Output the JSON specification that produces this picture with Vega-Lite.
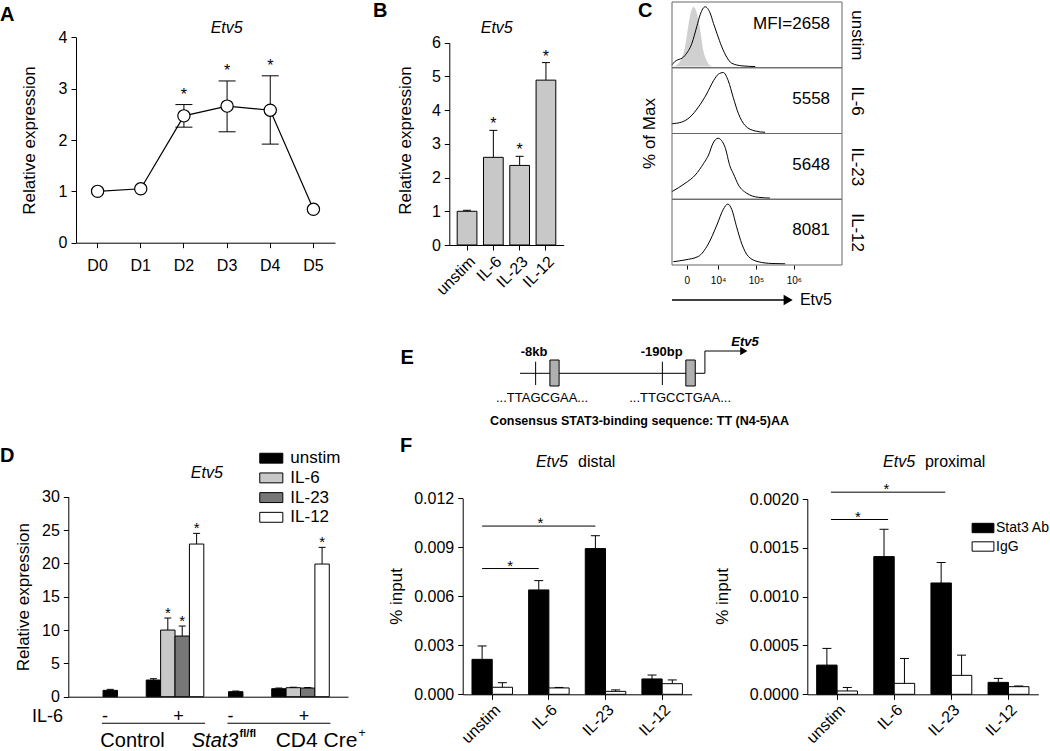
{
"$schema":"https://vega.github.io/schema/vega-lite/v6.json",
"width":1050,"height":751,"autosize":{"type":"none"},"padding":0,"background":"#ffffff",
"config":{"view":{"stroke":null},"font":"Liberation Sans",
 "axis":{"grid":false,"domainColor":"#000000","tickColor":"#000000","labelColor":"#000000","titleColor":"#000000","labelFont":"Liberation Sans","titleFont":"Liberation Sans","titleFontWeight":"normal","labelFontSize":16,"titleFontSize":17,"tickSize":5,"labelPadding":4},
 "legend":{"labelFont":"Liberation Sans","labelColor":"#000000"},
 "text":{"font":"Liberation Sans","color":"#000000"}},
"datasets":{
 "a":[
  {"day":"D0","mean":1.0,"lo":null,"hi":null,"sig":""},
  {"day":"D1","mean":1.05,"lo":null,"hi":null,"sig":""},
  {"day":"D2","mean":2.47,"lo":2.25,"hi":2.69,"sig":"*"},
  {"day":"D3","mean":2.66,"lo":2.16,"hi":3.15,"sig":"*"},
  {"day":"D4","mean":2.58,"lo":1.92,"hi":3.25,"sig":"*"},
  {"day":"D5","mean":0.65,"lo":null,"hi":null,"sig":""}],
 "b":[
  {"cat":"unstim","mean":1.0,"hi":1.03,"sig":""},
  {"cat":"IL-6","mean":2.6,"hi":3.4,"sig":"*"},
  {"cat":"IL-23","mean":2.36,"hi":2.63,"sig":"*"},
  {"cat":"IL-12","mean":4.89,"hi":5.41,"sig":"*"}],
 "hist":[
  {"sample":"unstim","series":"stain","u":2.79,"pct":3},
  {"sample":"unstim","series":"stain","u":2.82,"pct":5.6},
  {"sample":"unstim","series":"stain","u":3.13,"pct":18.7},
  {"sample":"unstim","series":"stain","u":3.31,"pct":38.7},
  {"sample":"unstim","series":"stain","u":3.44,"pct":67},
  {"sample":"unstim","series":"stain","u":3.53,"pct":86.9},
  {"sample":"unstim","series":"stain","u":3.66,"pct":100},
  {"sample":"unstim","series":"stain","u":3.79,"pct":89.8},
  {"sample":"unstim","series":"stain","u":3.88,"pct":72.2},
  {"sample":"unstim","series":"stain","u":3.97,"pct":55.7},
  {"sample":"unstim","series":"stain","u":4.10,"pct":32.9},
  {"sample":"unstim","series":"stain","u":4.23,"pct":15.8},
  {"sample":"unstim","series":"stain","u":4.36,"pct":5.6},
  {"sample":"unstim","series":"stain","u":4.63,"pct":1.2},
  {"sample":"unstim","series":"stain","u":4.98,"pct":0},
  {"sample":"unstim","series":"iso","u":2.81,"pct":0},
  {"sample":"unstim","series":"iso","u":2.95,"pct":4.6},
  {"sample":"unstim","series":"iso","u":3.13,"pct":32.9},
  {"sample":"unstim","series":"iso","u":3.26,"pct":84},
  {"sample":"unstim","series":"iso","u":3.35,"pct":100},
  {"sample":"unstim","series":"iso","u":3.44,"pct":89.8},
  {"sample":"unstim","series":"iso","u":3.53,"pct":61.3},
  {"sample":"unstim","series":"iso","u":3.61,"pct":27.3},
  {"sample":"unstim","series":"iso","u":3.70,"pct":10.2},
  {"sample":"unstim","series":"iso","u":3.79,"pct":1.7},
  {"sample":"unstim","series":"iso","u":3.87,"pct":0},
  {"sample":"IL-6","series":"stain","u":2.78,"pct":14.4},
  {"sample":"IL-6","series":"stain","u":3.04,"pct":17.1},
  {"sample":"IL-6","series":"stain","u":3.26,"pct":25.4},
  {"sample":"IL-6","series":"stain","u":3.48,"pct":42},
  {"sample":"IL-6","series":"stain","u":3.70,"pct":64.2},
  {"sample":"IL-6","series":"stain","u":3.88,"pct":86.2},
  {"sample":"IL-6","series":"stain","u":4.01,"pct":97.3},
  {"sample":"IL-6","series":"stain","u":4.14,"pct":100},
  {"sample":"IL-6","series":"stain","u":4.27,"pct":86.2},
  {"sample":"IL-6","series":"stain","u":4.40,"pct":58.5},
  {"sample":"IL-6","series":"stain","u":4.54,"pct":31},
  {"sample":"IL-6","series":"stain","u":4.71,"pct":11.6},
  {"sample":"IL-6","series":"stain","u":4.98,"pct":2.2},
  {"sample":"IL-6","series":"stain","u":5.24,"pct":0},
  {"sample":"IL-23","series":"stain","u":2.78,"pct":10.6},
  {"sample":"IL-23","series":"stain","u":3.13,"pct":24.6},
  {"sample":"IL-23","series":"stain","u":3.40,"pct":38.5},
  {"sample":"IL-23","series":"stain","u":3.62,"pct":58},
  {"sample":"IL-23","series":"stain","u":3.75,"pct":72},
  {"sample":"IL-23","series":"stain","u":3.87,"pct":92},
  {"sample":"IL-23","series":"stain","u":4.00,"pct":100},
  {"sample":"IL-23","series":"stain","u":4.18,"pct":85.9},
  {"sample":"IL-23","series":"stain","u":4.32,"pct":52.4},
  {"sample":"IL-23","series":"stain","u":4.40,"pct":41.4},
  {"sample":"IL-23","series":"stain","u":4.54,"pct":21.8},
  {"sample":"IL-23","series":"stain","u":4.76,"pct":7.9},
  {"sample":"IL-23","series":"stain","u":5.07,"pct":1.2},
  {"sample":"IL-23","series":"stain","u":5.37,"pct":0},
  {"sample":"IL-12","series":"stain","u":2.82,"pct":3.5},
  {"sample":"IL-12","series":"stain","u":3.13,"pct":6.5},
  {"sample":"IL-12","series":"stain","u":3.48,"pct":12.3},
  {"sample":"IL-12","series":"stain","u":3.74,"pct":32.8},
  {"sample":"IL-12","series":"stain","u":3.97,"pct":64.9},
  {"sample":"IL-12","series":"stain","u":4.14,"pct":91.2},
  {"sample":"IL-12","series":"stain","u":4.26,"pct":100},
  {"sample":"IL-12","series":"stain","u":4.36,"pct":91.2},
  {"sample":"IL-12","series":"stain","u":4.49,"pct":61.9},
  {"sample":"IL-12","series":"stain","u":4.63,"pct":32.8},
  {"sample":"IL-12","series":"stain","u":4.80,"pct":12.3},
  {"sample":"IL-12","series":"stain","u":5.06,"pct":3.5},
  {"sample":"IL-12","series":"stain","u":5.42,"pct":0.5},
  {"sample":"IL-12","series":"stain","u":5.77,"pct":0}],
 "d":[
  {"genotype":"Control","cond":"minus","stim":"unstim","value":0.95,"err":1.1,"sig":""},
  {"genotype":"Control","cond":"unstim","stim":"unstim","value":2.5,"err":2.7,"sig":""},
  {"genotype":"Control","cond":"IL-6","stim":"IL-6","value":10.0,"err":11.8,"sig":"*"},
  {"genotype":"Control","cond":"IL-23","stim":"IL-23","value":9.1,"err":10.6,"sig":"*"},
  {"genotype":"Control","cond":"IL-12","stim":"IL-12","value":22.9,"err":24.5,"sig":"*"},
  {"genotype":"Stat3","cond":"minus","stim":"unstim","value":0.75,"err":0.85,"sig":""},
  {"genotype":"Stat3","cond":"unstim","stim":"unstim","value":1.2,"err":1.3,"sig":""},
  {"genotype":"Stat3","cond":"IL-6","stim":"IL-6","value":1.35,"err":1.42,"sig":""},
  {"genotype":"Stat3","cond":"IL-23","stim":"IL-23","value":1.3,"err":1.38,"sig":""},
  {"genotype":"Stat3","cond":"IL-12","stim":"IL-12","value":19.9,"err":22.4,"sig":"*"}],
 "f1":[
  {"cat":"unstim","ab":"Stat3 Ab","value":0.00214,"err":0.00296},
  {"cat":"unstim","ab":"IgG","value":0.00043,"err":0.00071},
  {"cat":"IL-6","ab":"Stat3 Ab","value":0.00639,"err":0.00696},
  {"cat":"IL-6","ab":"IgG","value":0.00039,"err":0.00042},
  {"cat":"IL-23","ab":"Stat3 Ab","value":0.00892,"err":0.00971},
  {"cat":"IL-23","ab":"IgG","value":0.00018,"err":0.00027},
  {"cat":"IL-12","ab":"Stat3 Ab","value":0.00094,"err":0.00118},
  {"cat":"IL-12","ab":"IgG","value":0.00065,"err":0.00088}],
 "f2":[
  {"cat":"unstim","ab":"Stat3 Ab","value":0.000299,"err":0.00047},
  {"cat":"unstim","ab":"IgG","value":0.000034,"err":0.00007},
  {"cat":"IL-6","ab":"Stat3 Ab","value":0.00141,"err":0.00169},
  {"cat":"IL-6","ab":"IgG","value":0.000112,"err":0.000367},
  {"cat":"IL-23","ab":"Stat3 Ab","value":0.00114,"err":0.00135},
  {"cat":"IL-23","ab":"IgG","value":0.000194,"err":0.000401},
  {"cat":"IL-12","ab":"Stat3 Ab","value":0.000122,"err":0.000163},
  {"cat":"IL-12","ab":"IgG","value":0.000078,"err":0.000085}],
 "f1sig":[
  {"line":"a","cat":"unstim","level":0.0077},{"line":"a","cat":"IL-6","level":0.0077},
  {"line":"b","cat":"unstim","level":0.0103},{"line":"b","cat":"IL-23","level":0.0103}],
 "f2sig":[
  {"line":"a","cat":"unstim","level":0.00179},{"line":"a","cat":"IL-6","level":0.00179},
  {"line":"b","cat":"unstim","level":0.00207},{"line":"b","cat":"IL-23","level":0.00207}]
},
"layer":[
 {"layer":[
  {"data":{"name":"a"},"mark":{"type":"line","color":"#000000","strokeWidth":1.2},
   "encoding":{
    "x":{"field":"day","type":"nominal","scale":{"type":"band","domain":["D0","D1","D2","D3","D4","D5"],"range":[76,335],"paddingInner":0,"paddingOuter":0},"axis":{"orient":"bottom","offset":-508.3,"title":null,"labelAngle":0,"labelPadding":10,"labelFontSize":16}},
    "y":{"field":"mean","type":"quantitative","scale":{"domain":[0,4],"range":[242.7,37.3],"nice":false,"zero":false},"axis":{"orient":"left","offset":-76,"values":[0,1,2,3,4],"format":"d","title":"Relative expression","titleAngle":-90,"titleX":-47,"titleY":140,"titleAlign":"center","titleBaseline":"middle"}}}},
  {"data":{"name":"a"},"mark":{"type":"rule","color":"#000000","strokeWidth":1},"encoding":{"x":{"field":"day","type":"nominal"},"y":{"field":"lo","type":"quantitative"},"y2":{"field":"hi"}}},
  {"data":{"name":"a"},"mark":{"type":"tick","orient":"horizontal","size":17,"thickness":1,"color":"#000000","opacity":1},"encoding":{"x":{"field":"day","type":"nominal"},"y":{"field":"hi","type":"quantitative"}}},
  {"data":{"name":"a"},"mark":{"type":"tick","orient":"horizontal","size":17,"thickness":1,"color":"#000000","opacity":1},"encoding":{"x":{"field":"day","type":"nominal"},"y":{"field":"lo","type":"quantitative"}}},
  {"data":{"name":"a"},"mark":{"type":"point","shape":"circle","filled":true,"fill":"#ffffff","stroke":"#000000","strokeWidth":1.2,"size":150,"opacity":1},"encoding":{"x":{"field":"day","type":"nominal"},"y":{"field":"mean","type":"quantitative"}}},
  {"data":{"name":"a"},"mark":{"type":"text","fontSize":16,"baseline":"alphabetic","dy":-5},"encoding":{"x":{"field":"day","type":"nominal"},"y":{"field":"hi","type":"quantitative"},"text":{"field":"sig"}}},
  {"data":{"values":[{"t":"A"}]},"mark":{"type":"text","fontSize":20,"fontWeight":"bold","align":"left","baseline":"alphabetic"},"encoding":{"x":{"datum":"D0","type":"nominal","bandPosition":-1.76},"y":{"datum":4.32,"type":"quantitative"},"text":{"field":"t"}}},
  {"data":{"values":[{"t":"Etv5"}]},"mark":{"type":"text","fontSize":16,"fontStyle":"italic","align":"center","baseline":"alphabetic"},"encoding":{"x":{"datum":"D3","type":"nominal","bandPosition":0.49},"y":{"datum":4.09,"type":"quantitative"},"text":{"field":"t"}}}
 ]},
 {"layer":[
  {"data":{"name":"b"},"mark":{"type":"bar","fill":"#c8c8c8","stroke":"#000000","strokeWidth":1},
   "encoding":{
    "x":{"field":"cat","type":"nominal","scale":{"type":"band","domain":["unstim","IL-6","IL-23","IL-12"],"range":[449.3,563.7],"paddingInner":0.25,"paddingOuter":0.3},"axis":{"orient":"bottom","offset":-506,"title":null,"labelAngle":-45,"labelPadding":3,"labelFontSize":16}},
    "y":{"field":"mean","type":"quantitative","scale":{"domain":[0,6],"range":[245,42.7],"nice":false,"zero":false},"axis":{"orient":"left","offset":-449.3,"values":[0,1,2,3,4,5,6],"format":"d","title":"Relative expression","titleAngle":-90,"titleX":-43.8,"titleY":140,"titleAlign":"center","titleBaseline":"middle"}}}},
  {"data":{"name":"b"},"mark":{"type":"rule","color":"#000000","strokeWidth":1},"encoding":{"x":{"field":"cat","type":"nominal"},"y":{"field":"mean","type":"quantitative"},"y2":{"field":"hi"}}},
  {"data":{"name":"b"},"mark":{"type":"tick","orient":"horizontal","size":8,"thickness":1,"color":"#000000","opacity":1},"encoding":{"x":{"field":"cat","type":"nominal"},"y":{"field":"hi","type":"quantitative"}}},
  {"data":{"name":"b"},"mark":{"type":"text","fontSize":16,"baseline":"alphabetic","dy":-1},"encoding":{"x":{"field":"cat","type":"nominal"},"y":{"field":"hi","type":"quantitative"},"text":{"field":"sig"}}},
  {"data":{"values":[{"t":"B"}]},"mark":{"type":"text","fontSize":20,"fontWeight":"bold","align":"left","baseline":"alphabetic"},"encoding":{"x":{"datum":"unstim","type":"nominal","bandPosition":-4.27},"y":{"datum":6.77,"type":"quantitative"},"text":{"field":"t"}}},
  {"data":{"values":[{"t":"Etv5"}]},"mark":{"type":"text","fontSize":16,"fontStyle":"italic","align":"center","baseline":"alphabetic"},"encoding":{"x":{"datum":"IL-6","type":"nominal","bandPosition":0.67},"y":{"datum":6.29,"type":"quantitative"},"text":{"field":"t"}}}
 ]},
 {"layer":[
  {"data":{"name":"hist"},"transform":[{"filter":"datum.sample == 'unstim' && datum.series == 'iso'"}],"mark":{"type":"area","color":"#d0d0d0","interpolate":"monotone","opacity":1},
   "encoding":{
    "x":{"field":"u","type":"quantitative","scale":{"domain":[2.786,7.27],"range":[672,842],"nice":false,"zero":false},"axis":null},
    "y":{"field":"pct","type":"quantitative","scale":{"domain":[-2,108],"range":[67.75,2],"nice":false,"zero":false},"axis":{"orient":"right","offset":-208,"title":"unstim","titleAngle":90,"titleX":14,"titleY":34.9,"titleAlign":"center","titleBaseline":"middle","titleFontSize":17,"labels":false,"ticks":false,"domain":false}}}},
  {"data":{"name":"hist"},"transform":[{"filter":"datum.sample == 'unstim' && datum.series == 'stain'"}],"mark":{"type":"line","color":"#000000","strokeWidth":1,"interpolate":"monotone"},"encoding":{"x":{"field":"u","type":"quantitative"},"y":{"field":"pct","type":"quantitative"}}},
  {"data":{"values":[{"t":"box"}]},"mark":{"type":"rect","filled":false,"color":"#666666","strokeWidth":1},"encoding":{"x":{"datum":2.786,"type":"quantitative"},"x2":{"datum":7.27},"y":{"datum":-2,"type":"quantitative"},"y2":{"datum":108}}},
  {"data":{"values":[{"t":"MFI=2658"}]},"mark":{"type":"text","fontSize":17,"align":"right","baseline":"middle"},"encoding":{"x":{"datum":6.955,"type":"quantitative"},"y":{"datum":71.2,"type":"quantitative"},"text":{"field":"t"}}},
  {"data":{"values":[{"t":"C"}]},"mark":{"type":"text","fontSize":20,"fontWeight":"bold","align":"left","baseline":"alphabetic"},"encoding":{"x":{"datum":1.889,"type":"quantitative"},"y":{"datum":82.9,"type":"quantitative"},"text":{"field":"t"}}}
 ]},
 {"layer":[
  {"data":{"name":"hist"},"transform":[{"filter":"datum.sample == 'IL-6'"}],"mark":{"type":"line","color":"#000000","strokeWidth":1,"interpolate":"monotone"},
   "encoding":{
    "x":{"field":"u","type":"quantitative","scale":{"domain":[2.786,7.27],"range":[672,842],"nice":false,"zero":false},"axis":null},
    "y":{"field":"pct","type":"quantitative","scale":{"domain":[-2,108],"range":[133.5,67.75],"nice":false,"zero":false},"axis":{"orient":"right","offset":-208,"title":"IL-6","titleAngle":90,"titleX":14,"titleY":100.6,"titleAlign":"center","titleBaseline":"middle","titleFontSize":17,"labels":false,"ticks":false,"domain":false}}}},
  {"data":{"values":[{"t":"box"}]},"mark":{"type":"rect","filled":false,"color":"#666666","strokeWidth":1},"encoding":{"x":{"datum":2.786,"type":"quantitative"},"x2":{"datum":7.27},"y":{"datum":-2,"type":"quantitative"},"y2":{"datum":108}}},
  {"data":{"values":[{"t":"5558"}]},"mark":{"type":"text","fontSize":17,"align":"right","baseline":"middle"},"encoding":{"x":{"datum":6.955,"type":"quantitative"},"y":{"datum":56,"type":"quantitative"},"text":{"field":"t"}}},
  {"data":{"values":[{"t":"% of Max"}]},"mark":{"type":"text","fontSize":17,"align":"center","baseline":"middle","angle":270},"encoding":{"x":{"datum":2.206,"type":"quantitative"},"y":{"datum":-2,"type":"quantitative"},"text":{"field":"t"}}}
 ]},
 {"layer":[
  {"data":{"name":"hist"},"transform":[{"filter":"datum.sample == 'IL-23'"}],"mark":{"type":"line","color":"#000000","strokeWidth":1,"interpolate":"monotone"},
   "encoding":{
    "x":{"field":"u","type":"quantitative","scale":{"domain":[2.786,7.27],"range":[672,842],"nice":false,"zero":false},"axis":null},
    "y":{"field":"pct","type":"quantitative","scale":{"domain":[-2,108],"range":[199.25,133.5],"nice":false,"zero":false},"axis":{"orient":"right","offset":-208,"title":"IL-23","titleAngle":90,"titleX":14,"titleY":166.4,"titleAlign":"center","titleBaseline":"middle","titleFontSize":17,"labels":false,"ticks":false,"domain":false}}}},
  {"data":{"values":[{"t":"box"}]},"mark":{"type":"rect","filled":false,"color":"#666666","strokeWidth":1},"encoding":{"x":{"datum":2.786,"type":"quantitative"},"x2":{"datum":7.27},"y":{"datum":-2,"type":"quantitative"},"y2":{"datum":108}}},
  {"data":{"values":[{"t":"5648"}]},"mark":{"type":"text","fontSize":17,"align":"right","baseline":"middle"},"encoding":{"x":{"datum":6.955,"type":"quantitative"},"y":{"datum":56,"type":"quantitative"},"text":{"field":"t"}}}
 ]},
 {"layer":[
  {"data":{"name":"hist"},"transform":[{"filter":"datum.sample == 'IL-12'"}],"mark":{"type":"line","color":"#000000","strokeWidth":1,"interpolate":"monotone"},
   "encoding":{
    "x":{"field":"u","type":"quantitative","scale":{"domain":[2.786,7.27],"range":[672,842],"nice":false,"zero":false},"axis":{"orient":"bottom","offset":-486,"values":[3.174,4,5,6],"labelExpr":"datum.value < 3.5 ? '0' : datum.value < 4.5 ? '10⁴' : datum.value < 5.5 ? '10⁵' : '10⁶'","labelFontSize":10,"tickSize":4,"labelPadding":6,"title":null,"domain":false,"labelFlush":false}},
    "y":{"field":"pct","type":"quantitative","scale":{"domain":[-2,108],"range":[265,199.25],"nice":false,"zero":false},"axis":{"orient":"right","offset":-208,"title":"IL-12","titleAngle":90,"titleX":14,"titleY":232.1,"titleAlign":"center","titleBaseline":"middle","titleFontSize":17,"labels":false,"ticks":false,"domain":false}}}},
  {"data":{"values":[{"t":"box"}]},"mark":{"type":"rect","filled":false,"color":"#666666","strokeWidth":1},"encoding":{"x":{"datum":2.786,"type":"quantitative"},"x2":{"datum":7.27},"y":{"datum":-2,"type":"quantitative"},"y2":{"datum":108}}},
  {"data":{"values":[{"t":"8081"}]},"mark":{"type":"text","fontSize":17,"align":"right","baseline":"middle"},"encoding":{"x":{"datum":6.955,"type":"quantitative"},"y":{"datum":56,"type":"quantitative"},"text":{"field":"t"}}},
  {"data":{"values":[{"t":"arrow"}]},"mark":{"type":"rule","color":"#000000","strokeWidth":1.6},"encoding":{"x":{"datum":2.786,"type":"quantitative"},"x2":{"datum":5.74},"y":{"datum":-60.6,"type":"quantitative"}}},
  {"data":{"values":[{"t":"arrow"}]},"mark":{"type":"point","shape":"triangle-right","filled":true,"color":"#000000","size":110,"opacity":1},"encoding":{"x":{"datum":5.85,"type":"quantitative"},"y":{"datum":-60.6,"type":"quantitative"}}},
  {"data":{"values":[{"t":"Etv5"}]},"mark":{"type":"text","fontSize":16,"align":"left","baseline":"middle"},"encoding":{"x":{"datum":6.16,"type":"quantitative"},"y":{"datum":-60.6,"type":"quantitative"},"text":{"field":"t"}}}
 ]},
 {"layer":[
  {"data":{"name":"d"},"mark":{"type":"bar","stroke":"#000000","strokeWidth":1},
   "encoding":{
    "x":{"field":"genotype","type":"nominal","scale":{"type":"band","domain":["Control","Stat3"],"range":[68.3,348],"paddingInner":0.197,"paddingOuter":0.213,"align":0.65},"axis":{"orient":"bottom","offset":-54.3,"title":null,"labels":false,"ticks":false}},
    "xOffset":{"field":"cond","type":"nominal","scale":{"domain":["minus","gap1","gap2","unstim","IL-6","IL-23","IL-12"],"paddingInner":0,"paddingOuter":0}},
    "y":{"field":"value","type":"quantitative","scale":{"domain":[0,30],"range":[696.7,496.7],"nice":false},"axis":{"orient":"left","offset":-68.3,"values":[0,5,10,15,20,25,30],"format":"d","title":"Relative expression","titleAngle":-90,"titleX":-45.3,"titleY":596.7,"titleAlign":"center","titleBaseline":"middle"}},
    "color":{"field":"stim","type":"nominal","scale":{"domain":["unstim","IL-6","IL-23","IL-12"],"range":["#000000","#c8c8c8","#777777","#ffffff"]},"legend":{"orient":"none","legendX":261.8,"legendY":448.7,"title":null,"labelFontSize":17,"symbolType":"M-1.28,-0.55H1.28V0.55H-1.28Z","symbolSize":324,"symbolStrokeColor":"#000000","symbolStrokeWidth":1,"labelOffset":9.5,"rowPadding":1.7}}}},
  {"data":{"name":"d"},"mark":{"type":"rule","color":"#000000","strokeWidth":1},"encoding":{"x":{"field":"genotype","type":"nominal"},"xOffset":{"field":"cond","type":"nominal"},"y":{"field":"value","type":"quantitative"},"y2":{"field":"err"}}},
  {"data":{"name":"d"},"mark":{"type":"tick","orient":"horizontal","size":7,"thickness":1,"color":"#000000","opacity":1},"encoding":{"x":{"field":"genotype","type":"nominal"},"xOffset":{"field":"cond","type":"nominal"},"y":{"field":"err","type":"quantitative"}}},
  {"data":{"name":"d"},"mark":{"type":"text","fontSize":15,"baseline":"alphabetic","dy":0},"encoding":{"x":{"field":"genotype","type":"nominal"},"xOffset":{"field":"cond","type":"nominal"},"y":{"field":"err","type":"quantitative"},"text":{"field":"sig"}}},
  {"data":{"values":[{"t":"D"}]},"mark":{"type":"text","fontSize":20,"fontWeight":"bold","align":"left","baseline":"alphabetic"},"encoding":{"x":{"datum":"Control","type":"nominal","bandPosition":-1.022},"y":{"datum":35.2,"type":"quantitative"},"text":{"field":"t"}}},
  {"data":{"values":[{"t":"Etv5"}]},"mark":{"type":"text","fontSize":16,"fontStyle":"italic","align":"center","baseline":"alphabetic"},"encoding":{"x":{"datum":"Control","type":"nominal","bandPosition":1.03},"y":{"datum":32.8,"type":"quantitative"},"text":{"field":"t"}}},
  {"data":{"values":[{"t":"IL-6"}]},"mark":{"type":"text","fontSize":18,"align":"right","baseline":"middle"},"encoding":{"x":{"datum":"Control","type":"nominal","bandPosition":-0.397},"y":{"datum":-3.0,"type":"quantitative"},"text":{"field":"t"}}},
  {"data":{"values":[{"genotype":"Control","t":"-"},{"genotype":"Stat3","t":"-"}]},"mark":{"type":"text","fontSize":18,"align":"center","baseline":"middle"},"encoding":{"x":{"field":"genotype","type":"nominal","bandPosition":0.02},"y":{"datum":-3.0,"type":"quantitative"},"text":{"field":"t"}}},
  {"data":{"values":[{"genotype":"Control","t":"+"},{"genotype":"Stat3","t":"+"}]},"mark":{"type":"text","fontSize":18,"align":"center","baseline":"middle"},"encoding":{"x":{"field":"genotype","type":"nominal","bandPosition":0.75},"y":{"datum":-3.0,"type":"quantitative"},"text":{"field":"t"}}},
  {"data":{"values":[{"genotype":"Control"},{"genotype":"Stat3"}]},"mark":{"type":"tick","orient":"horizontal","size":103,"thickness":1,"color":"#000000","opacity":1},"encoding":{"x":{"field":"genotype","type":"nominal","bandPosition":0.4},"y":{"datum":-4.0,"type":"quantitative"}}},
  {"data":{"values":[{"t":"Control"}]},"mark":{"type":"text","fontSize":20,"align":"center","baseline":"alphabetic"},"encoding":{"x":{"datum":"Control","type":"nominal","bandPosition":0.293},"y":{"datum":-7.5,"type":"quantitative"},"text":{"field":"t"}}},
  {"data":{"values":[{"t":"Stat3"}]},"mark":{"type":"text","fontSize":20,"fontStyle":"italic","align":"left","baseline":"alphabetic"},"encoding":{"x":{"datum":"Stat3","type":"nominal","bandPosition":-0.365},"y":{"datum":-7.5,"type":"quantitative"},"text":{"field":"t"}}},
  {"data":{"values":[{"t":"fl/fl"}]},"mark":{"type":"text","fontSize":11,"fontWeight":"bold","align":"left","baseline":"alphabetic"},"encoding":{"x":{"datum":"Stat3","type":"nominal","bandPosition":0.11},"y":{"datum":-6.0,"type":"quantitative"},"text":{"field":"t"}}},
  {"data":{"values":[{"t":"CD4 Cre"}]},"mark":{"type":"text","fontSize":21,"align":"center","baseline":"alphabetic"},"encoding":{"x":{"datum":"Stat3","type":"nominal","bandPosition":0.873},"y":{"datum":-7.5,"type":"quantitative"},"text":{"field":"t"}}},
  {"data":{"values":[{"t":"+"}]},"mark":{"type":"text","fontSize":12,"align":"left","baseline":"alphabetic"},"encoding":{"x":{"datum":"Stat3","type":"nominal","bandPosition":1.29},"y":{"datum":-6.0,"type":"quantitative"},"text":{"field":"t"}}}
 ]},
 {"layer":[
  {"data":{"values":[
    {"x":0,"x2":80.4,"y":56.7,"y2":56.7},
    {"x":80.4,"x2":80.4,"y":56.7,"y2":79},
    {"x":80.4,"x2":96,"y":79,"y2":79},
    {"x":6.8,"x2":6.8,"y":45,"y2":68.3},
    {"x":61.9,"x2":61.9,"y":45,"y2":68.3}]},
   "mark":{"type":"rule","color":"#000000","strokeWidth":1},
   "encoding":{"x":{"field":"x","type":"quantitative","scale":{"domain":[0,100],"range":[520,750],"nice":false,"zero":false},"axis":null},"x2":{"field":"x2"},"y":{"field":"y","type":"quantitative","scale":{"domain":[0,100],"range":[430,330],"nice":false,"zero":false},"axis":null},"y2":{"field":"y2"}}},
  {"data":{"values":[{"x":13,"x2":17,"y":44,"y2":70},{"x":72.1,"x2":76.2,"y":44,"y2":70}]},"mark":{"type":"rect","fill":"#b0b0b0","stroke":"#000000","strokeWidth":1},"encoding":{"x":{"field":"x","type":"quantitative"},"x2":{"field":"x2"},"y":{"field":"y","type":"quantitative"},"y2":{"field":"y2"}}},
  {"data":{"values":[{"x":97.3,"y":79}]},"mark":{"type":"point","shape":"triangle-right","filled":true,"color":"#000000","size":70,"opacity":1},"encoding":{"x":{"field":"x","type":"quantitative"},"y":{"field":"y","type":"quantitative"}}},
  {"data":{"values":[{"t":"-8kb","x":6.1,"y":78.3},{"t":"-190bp","x":61.6,"y":78.3}]},"mark":{"type":"text","fontSize":13,"fontWeight":"bold","align":"center","baseline":"middle"},"encoding":{"x":{"field":"x","type":"quantitative"},"y":{"field":"y","type":"quantitative"},"text":{"field":"t"}}},
  {"data":{"values":[{"t":"Etv5","x":97.8,"y":88}]},"mark":{"type":"text","fontSize":13,"fontWeight":"bold","fontStyle":"italic","align":"center","baseline":"middle"},"encoding":{"x":{"field":"x","type":"quantitative"},"y":{"field":"y","type":"quantitative"},"text":{"field":"t"}}},
  {"data":{"values":[{"t":"...TTAGCGAA...","x":9.6,"y":32},{"t":"...TTGCCTGAA...","x":69.6,"y":32}]},"mark":{"type":"text","fontSize":13,"align":"center","baseline":"middle"},"encoding":{"x":{"field":"x","type":"quantitative"},"y":{"field":"y","type":"quantitative"},"text":{"field":"t"}}},
  {"data":{"values":[{"t":"Consensus STAT3-binding sequence: TT (N4-5)AA","x":-13,"y":9}]},"mark":{"type":"text","fontSize":12.5,"fontWeight":"bold","align":"left","baseline":"middle"},"encoding":{"x":{"field":"x","type":"quantitative"},"y":{"field":"y","type":"quantitative"},"text":{"field":"t"}}},
  {"data":{"values":[{"t":"E","x":-52,"y":66}]},"mark":{"type":"text","fontSize":20,"fontWeight":"bold","align":"left","baseline":"alphabetic"},"encoding":{"x":{"field":"x","type":"quantitative"},"y":{"field":"y","type":"quantitative"},"text":{"field":"t"}}}
 ]},
 {"layer":[
  {"data":{"name":"f1"},"mark":{"type":"bar","stroke":"#000000","strokeWidth":1},
   "encoding":{
    "x":{"field":"cat","type":"nominal","scale":{"type":"band","domain":["unstim","IL-6","IL-23","IL-12"],"range":[462.7,691.7],"paddingInner":0.285,"paddingOuter":0.164},"axis":{"orient":"bottom","offset":-56.7,"title":null,"labelAngle":-45,"labelPadding":2}},
    "xOffset":{"field":"ab","type":"nominal","scale":{"domain":["Stat3 Ab","IgG"],"paddingInner":0,"paddingOuter":0}},
    "y":{"field":"value","type":"quantitative","scale":{"domain":[0,0.012],"range":[694.3,498.3],"nice":false},"axis":{"orient":"left","offset":-462.7,"values":[0,0.003,0.006,0.009,0.012],"format":".3f","title":"% input","titleAngle":-90,"titleX":-66.7,"titleY":596,"titleAlign":"center","titleBaseline":"middle"}},
    "color":{"field":"ab","type":"nominal","scale":{"domain":["Stat3 Ab","IgG"],"range":["#000000","#ffffff"]},"legend":null}}},
  {"data":{"name":"f1"},"mark":{"type":"rule","color":"#000000","strokeWidth":1},"encoding":{"x":{"field":"cat","type":"nominal"},"xOffset":{"field":"ab","type":"nominal"},"y":{"field":"value","type":"quantitative"},"y2":{"field":"err"}}},
  {"data":{"name":"f1"},"mark":{"type":"tick","orient":"horizontal","size":9,"thickness":1,"color":"#000000","opacity":1},"encoding":{"x":{"field":"cat","type":"nominal"},"xOffset":{"field":"ab","type":"nominal"},"y":{"field":"err","type":"quantitative"}}},
  {"data":{"name":"f1sig"},"mark":{"type":"line","color":"#000000","strokeWidth":1},"encoding":{"x":{"field":"cat","type":"nominal","bandPosition":0.25},"y":{"field":"level","type":"quantitative"},"detail":{"field":"line"}}},
  {"data":{"values":[{"t":"*"}]},"mark":{"type":"text","fontSize":15,"align":"center","baseline":"alphabetic","dy":2},"encoding":{"x":{"datum":"unstim","type":"nominal","bandPosition":0.94},"y":{"datum":0.0077,"type":"quantitative"},"text":{"field":"t"}}},
  {"data":{"values":[{"t":"*"}]},"mark":{"type":"text","fontSize":15,"align":"center","baseline":"alphabetic","dy":2},"encoding":{"x":{"datum":"unstim","type":"nominal","bandPosition":1.69},"y":{"datum":0.0103,"type":"quantitative"},"text":{"field":"t"}}},
  {"data":{"values":[{"t":"Etv5"}]},"mark":{"type":"text","fontSize":16,"fontStyle":"italic","align":"right","baseline":"alphabetic"},"encoding":{"x":{"datum":"IL-6","type":"nominal","bandPosition":0.97},"y":{"datum":0.013935,"type":"quantitative"},"text":{"field":"t"}}},
  {"data":{"values":[{"t":"distal"}]},"mark":{"type":"text","fontSize":16,"align":"left","baseline":"alphabetic"},"encoding":{"x":{"datum":"IL-6","type":"nominal","bandPosition":1.22},"y":{"datum":0.013935,"type":"quantitative"},"text":{"field":"t"}}},
  {"data":{"values":[{"t":"F"}]},"mark":{"type":"text","fontSize":20,"fontWeight":"bold","align":"left","baseline":"alphabetic"},"encoding":{"x":{"datum":"unstim","type":"nominal","bandPosition":-1.78},"y":{"datum":0.014835,"type":"quantitative"},"text":{"field":"t"}}}
 ]},
 {"layer":[
  {"data":{"name":"f2"},"mark":{"type":"bar","stroke":"#000000","strokeWidth":1},
   "encoding":{
    "x":{"field":"cat","type":"nominal","scale":{"type":"band","domain":["unstim","IL-6","IL-23","IL-12"],"range":[807.3,1038.3],"paddingInner":0.285,"paddingOuter":0.164},"axis":{"orient":"bottom","offset":-56.7,"title":null,"labelAngle":-45,"labelPadding":2}},
    "xOffset":{"field":"ab","type":"nominal","scale":{"domain":["Stat3 Ab","IgG"],"paddingInner":0,"paddingOuter":0}},
    "y":{"field":"value","type":"quantitative","scale":{"domain":[0,0.002],"range":[694.3,499],"nice":false},"axis":{"orient":"left","offset":-807.3,"values":[0,0.0005,0.001,0.0015,0.002],"format":".4f","title":"% input","titleAngle":-90,"titleX":-85.3,"titleY":596,"titleAlign":"center","titleBaseline":"middle"}},
    "color":{"field":"ab","type":"nominal","scale":{"domain":["Stat3 Ab","IgG"],"range":["#000000","#ffffff"]},"legend":{"orient":"none","legendX":974,"legendY":519,"title":null,"labelFontSize":14,"symbolType":"M-1.28,-0.55H1.28V0.55H-1.28Z","symbolSize":289,"symbolStrokeColor":"#000000","symbolStrokeWidth":1,"labelOffset":4,"rowPadding":2.5}}}},
  {"data":{"name":"f2"},"mark":{"type":"rule","color":"#000000","strokeWidth":1},"encoding":{"x":{"field":"cat","type":"nominal"},"xOffset":{"field":"ab","type":"nominal"},"y":{"field":"value","type":"quantitative"},"y2":{"field":"err"}}},
  {"data":{"name":"f2"},"mark":{"type":"tick","orient":"horizontal","size":9,"thickness":1,"color":"#000000","opacity":1},"encoding":{"x":{"field":"cat","type":"nominal"},"xOffset":{"field":"ab","type":"nominal"},"y":{"field":"err","type":"quantitative"}}},
  {"data":{"name":"f2sig"},"mark":{"type":"line","color":"#000000","strokeWidth":1},"encoding":{"x":{"field":"cat","type":"nominal","bandPosition":0.35},"y":{"field":"level","type":"quantitative"},"detail":{"field":"line"}}},
  {"data":{"values":[{"t":"*"}]},"mark":{"type":"text","fontSize":15,"align":"center","baseline":"alphabetic","dy":2},"encoding":{"x":{"datum":"unstim","type":"nominal","bandPosition":1.01},"y":{"datum":0.00179,"type":"quantitative"},"text":{"field":"t"}}},
  {"data":{"values":[{"t":"*"}]},"mark":{"type":"text","fontSize":15,"align":"center","baseline":"alphabetic","dy":2},"encoding":{"x":{"datum":"unstim","type":"nominal","bandPosition":1.71},"y":{"datum":0.00207,"type":"quantitative"},"text":{"field":"t"}}},
  {"data":{"values":[{"t":"Etv5"}]},"mark":{"type":"text","fontSize":16,"fontStyle":"italic","align":"right","baseline":"alphabetic"},"encoding":{"x":{"datum":"unstim","type":"nominal","bandPosition":2.41},"y":{"datum":0.002331,"type":"quantitative"},"text":{"field":"t"}}},
  {"data":{"values":[{"t":"proximal"}]},"mark":{"type":"text","fontSize":16,"align":"left","baseline":"alphabetic"},"encoding":{"x":{"datum":"unstim","type":"nominal","bandPosition":2.65},"y":{"datum":0.002331,"type":"quantitative"},"text":{"field":"t"}}}
 ]}
],
"resolve":{"scale":{"x":"independent","y":"independent","xOffset":"independent","color":"independent"},"axis":{"x":"independent","y":"independent"},"legend":{"color":"independent"}}
}
